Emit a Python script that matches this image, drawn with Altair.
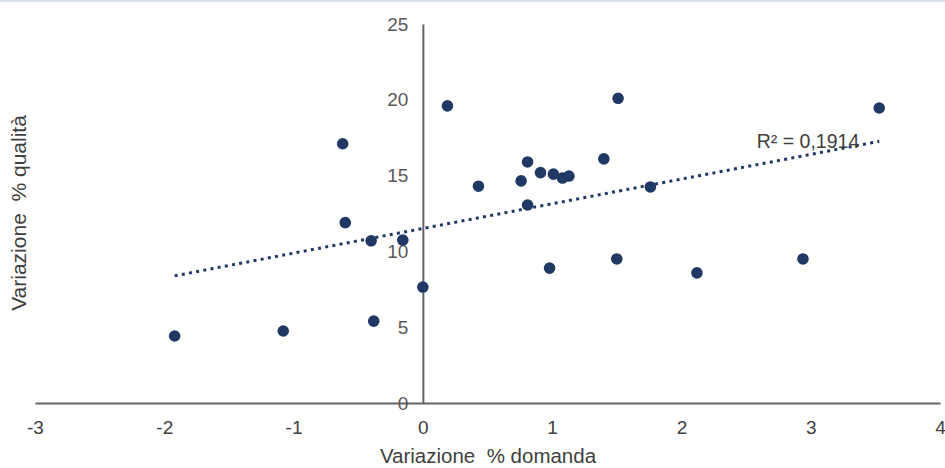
import altair as alt
import pandas as pd

# Percentage change in demand (x) and in quality (y), one point per observation
domanda = [-1.92, -1.08, -0.62, -0.60, -0.40, -0.38, -0.155, 0.00, 0.19, 0.43,
           0.76, 0.81, 0.81, 0.91, 1.01, 1.08, 1.13, 0.98, 1.40, 1.50,
           1.51, 1.76, 2.12, 2.94, 3.53]
qualita = [4.42, 4.75, 17.10, 11.90, 10.70, 5.40, 10.75, 7.65, 19.60, 14.30,
           14.65, 15.90, 13.06, 15.20, 15.10, 14.84, 14.97, 8.90, 16.10, 9.50,
           20.10, 14.25, 8.58, 9.50, 19.46]

x_ticks = [-3, -2, -1, 0, 1, 2, 3, 4]
y_ticks = [0, 5, 10, 15, 20, 25]
r2_label = "R² = 0,1914"
x_title = "Variazione\u00a0 % domanda"
y_title = "Variazione\u00a0 % qualità"

NAVY = "#1f3864"
AXIS_GREY = "#646464"
LABEL_GREY = "#595959"
FONT = "Liberation Sans"

W, H = 905, 379
df = pd.DataFrame({"x": domanda, "y": qualita})

x_scale = alt.Scale(domain=[-3, 4], nice=False, zero=False)
y_scale = alt.Scale(domain=[0, 25], nice=False)

x_enc = alt.X("x:Q", scale=x_scale,
              axis=alt.Axis(values=x_ticks, title=x_title, grid=False, ticks=False,
                            labelExpr="'' + datum.value",
                            domainColor=AXIS_GREY, domainWidth=2,
                            labelFontSize=19, labelColor="#404040", labelFont=FONT,
                            labelPadding=15, labelFlush=False,
                            titleFontSize=20.5, titleFontWeight="normal",
                            titleColor="#404040", titleFont=FONT, titlePadding=9))
# y axis drawn through x = 0
y_offset = -W * 3 / 7
y_enc = alt.Y("y:Q", scale=y_scale,
              axis=alt.Axis(values=y_ticks, title=None, grid=False, ticks=False,
                            offset=y_offset, domainColor=AXIS_GREY, domainWidth=2,
                            labelFontSize=19, labelColor=LABEL_GREY, labelFont=FONT,
                            labelPadding=15))

points = alt.Chart(df).mark_circle(size=135, color=NAVY, opacity=1).encode(x=x_enc, y=y_enc)

trend_base = alt.Chart(df).transform_regression("x", "y")
trend = trend_base.mark_line(color=NAVY, strokeWidth=3, strokeDash=[3, 4.3]).encode(
    x=alt.X("x:Q", scale=x_scale), y=alt.Y("y:Q", scale=y_scale))

r2 = trend_base.transform_filter("datum.x > 3").mark_text(
    align="right", baseline="middle", dx=-20, dy=1, fontSize=19.5, font=FONT, color="#404040"
).encode(x=alt.X("x:Q", scale=x_scale), y=alt.Y("y:Q", scale=y_scale), text=alt.value(r2_label))

ytitle = alt.Chart(pd.DataFrame({"t": [y_title]})).mark_text(
    angle=270, align="center", baseline="middle", fontSize=21, font=FONT, color="#404040"
).encode(x=alt.value(-15), y=alt.value(189), text="t:N")

top_rule = alt.Chart(pd.DataFrame({"t": [0]})).mark_rule(color="#dce3eb", strokeWidth=2).encode(
    x=alt.value(-35), x2=alt.value(W + 5), y=alt.value(-23))

chart = alt.layer(trend, points, r2, ytitle, top_rule).properties(
    width=W, height=H,
    autosize=alt.AutoSizeParams(type="none"),
    padding={"left": 35, "top": 24, "right": 5, "bottom": 65},
    background="white",
).configure_view(stroke=None)

chart.save("out.html", embed_options={"renderer": "svg", "actions": False})
